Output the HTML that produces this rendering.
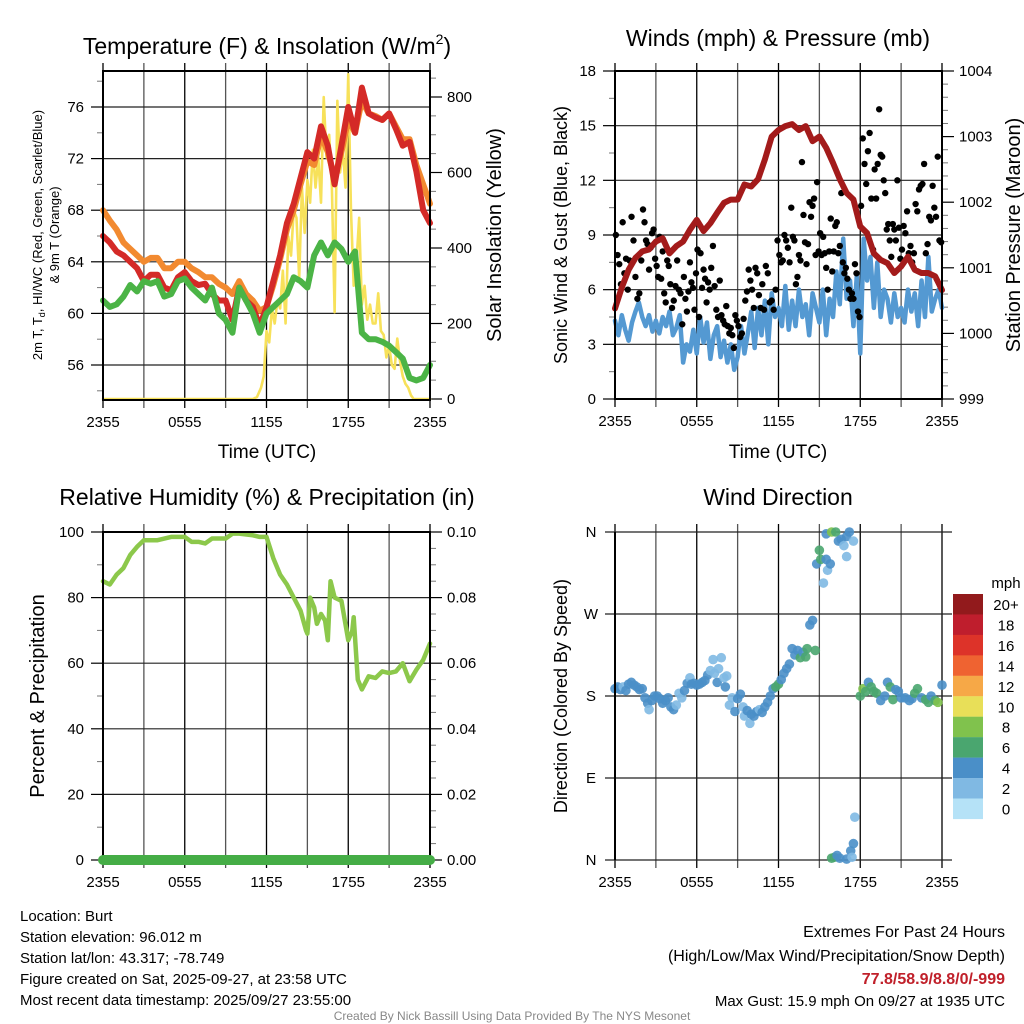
<!DOCTYPE html>
<html><head><meta charset="utf-8"><style>
html,body{margin:0;padding:0;background:#fff;}
svg{display:block;font-family:"Liberation Sans",sans-serif;}
</style></head><body>
<svg id="c" width="1024" height="1024" viewBox="0 0 1024 1024" xmlns="http://www.w3.org/2000/svg">
<g font-size="23" text-anchor="middle" fill="#000">
<text x="267" y="54">Temperature (F) &amp; Insolation (W/m<tspan font-size="14" dy="-10">2</tspan><tspan dy="10">)</tspan></text>
<text x="778" y="46">Winds (mph) &amp; Pressure (mb)</text>
<text x="267" y="505">Relative Humidity (%) &amp; Precipitation (in)</text>
<text x="778" y="505">Wind Direction</text>
</g>
<g font-size="15" fill="#000">
<text x="20" y="921">Location: Burt</text>
<text x="20" y="942">Station elevation: 96.012 m</text>
<text x="20" y="963">Station lat/lon: 43.317; -78.749</text>
<text x="20" y="984">Figure created on Sat, 2025-09-27, at 23:58 UTC</text>
<text x="20" y="1005">Most recent data timestamp: 2025/09/27 23:55:00</text>
</g>
<g font-size="16" fill="#000" text-anchor="end">
<text x="1005" y="937">Extremes For Past 24 Hours</text>
<text x="1005" y="961">(High/Low/Max Wind/Precipitation/Snow Depth)</text>
<text x="1005" y="984" fill="#c0202a" font-weight="bold">77.8/58.9/8.8/0/-999</text>
<text x="1005" y="1006" font-size="15">Max Gust: 15.9 mph On 09/27 at 1935 UTC</text>
</g>
<text x="512" y="1020" font-size="12" fill="#888" text-anchor="middle">Created By Nick Bassill Using Data Provided By The NYS Mesonet</text>
</svg>
<script>
// ---------- DATA ----------
const xTickLabels=["2355","0555","1155","1755","2355"];
const tHours=[0,0.5,1,1.5,2,2.5,3,3.5,4,4.5,5,5.5,6,6.5,7,7.5,8,8.5,9,9.5,10,10.5,11,11.5,12,12.5,13,13.5,14,14.5,15,15.5,16,16.5,17,17.5,18,18.5,19,19.5,20,20.5,21,21.5,22,22.5,23,23.5,24];
const tempRed=[66,65.5,64.8,64.5,64,63.5,62.5,63,63,62,61.8,62.8,63.2,62.5,62.2,62.3,61.5,61,61,59.5,62,61,60.5,59,60.5,62.5,64.5,67,68.5,70.5,72.5,72,74.5,73,70,73,76,74,77.5,75.5,75.2,75,75.5,74.3,73,73.3,71,68,67];
const tempOrange=[68,67.2,66.5,65.5,65,64.5,64,64.3,64.3,63.5,63.5,64,64,63.5,63.2,62.8,62.8,62.3,62,61.5,62.5,61.5,61,60.2,60.5,62.2,64.2,66.5,68,70,71.8,71.5,73.8,72.5,70.5,72.5,75,74,76.5,75.5,75.3,75,75.5,74.5,73.5,73.5,71.5,70,68.5];
const tempGreen=[61,60.5,60.7,61.3,62.2,61.7,62.5,62.3,62.5,61.3,61.5,62.5,62.7,62,61.5,61,62,60,59.5,58.5,62,61,60,58.5,60,60.5,61,61.5,62.8,62.5,62,64.5,65.5,64.5,65.5,65,64,64.8,58.5,58,58,57.8,57.5,57,56.5,55,54.8,55,56];
const solHours=[0,11,11.3,11.6,11.8,12,12.2,12.4,12.6,12.8,13,13.2,13.4,13.6,13.8,14,14.2,14.4,14.6,14.8,15,15.2,15.4,15.6,15.8,16,16.2,16.4,16.6,16.8,17,17.2,17.4,17.6,17.8,18,18.2,18.4,18.6,18.8,19,19.2,19.4,19.6,19.8,20,20.2,20.4,20.6,20.8,21,21.2,21.4,21.6,21.8,22,22.2,22.4,22.6,22.8,24];
const solValues=[0,0,5,30,60,180,150,240,200,260,240,340,200,430,380,500,480,320,560,440,580,520,660,560,640,520,800,640,700,560,230,790,600,660,560,860,500,300,360,480,250,300,210,250,200,200,280,180,170,110,140,90,80,160,100,60,40,30,10,0,0];
const pressHours=tHours;
const pressValues=[1000.38,1000.7,1000.97,1001.15,1001.25,1001.28,1001.4,1001.45,1001.22,1001.33,1001.4,1001.58,1001.73,1001.56,1001.68,1001.84,1001.99,1002.04,1002.04,1002.27,1002.24,1002.35,1002.65,1003.0,1003.1,1003.16,1003.19,1003.1,1003.16,1002.93,1003.0,1002.83,1002.6,1002.35,1002.14,1002.04,1001.63,1001.53,1001.22,1001.12,1001.07,1000.92,1001.02,1001.17,1000.97,1000.92,1000.92,1000.87,1000.66];
const sonicWind=[4.3,3.5,4.6,3.8,3.2,4.2,4.8,5.3,4.5,4.0,4.6,3.7,4.3,3.6,4.5,4.0,4.8,3.5,3.9,4.6,2.0,3.0,2.6,3.8,2.5,4.5,3.1,4.2,2.2,3.5,4.0,2.3,3.2,2.0,3.0,1.6,2.3,4.0,2.5,3.6,4.8,2.8,5.0,3.5,5.4,3.0,5.8,4.5,5.0,4.0,6.2,3.8,5.4,4.0,6.0,4.5,5.2,3.5,5.8,5.0,4.2,6.0,3.5,5.5,4.5,7.0,5.2,8.8,5.5,6.5,4.0,6.8,2.5,8.8,6.5,7.8,5.0,7.5,4.5,6.0,5.5,4.2,5.8,4.5,5.0,4.2,6.0,4.8,5.8,4.0,6.5,4.5,7.8,4.8,5.5,6.0,5.0];
const gustByHour=[[9,7.9,7.4,6.3,9.7,6.9,7.7,6.0],[7.6,10.0,8.7,6.7,5.5,5.8,7.6],[10.4,9.7,8.7,8.5,7.1,8.3,9.1,9.3,7.7],[7.3,6.7,8.9,6.6,8.1,5.8,5.3,7.6,7.3],[6.3,5.0,5.4,6.2,7.6,6.0,5.8,4.1],[6.7,5.5,4.8,5.9,7.5,6.4,6.1,4.9,6.9],[8.2,4.5,8.0,6.1,7.1,6.6,5.3,6.4,6.0],[7.2,8.4,6.2,4.9,4.5,6.5,4.6,4.3],[4.1,5.1,4.0,3.6,3.9,3.5,2.8,4.6,4.3],[4.0,3.4,3.6,4.4,5.4,5.9,7.1,6.5],[6.0,5.0,7.2,6.9,5.7,5.0,6.3,4.9],[7.3,6.9,5.3,5.4,4.9,6.0,8.7],[7.9,7.5,7.6,9.0,8.7,8.3,7.5,10.5],[8.9,8.7,6.3,6.7,7.9,7.6,13.0,10.1,8.6],[7.4,8.5,10.8,10.0,10.6,11.0,7.9,11.9,8.1],[9.1,7.9,8.9,8.0,7.2,6.0,8.1,9.9,7.0],[8.1,9.5,9.7,8.0,8.4,11.3,7.5,6.9,7.2],[6.6,6.0,5.5,5.8,5.5,7.4,6.9,4.8,4.5],[10.6,14.3,12.9,11.8,13.6,14.6,11.0,8.2],[12.6,11.0,12.9,15.9,13.4,13.3,12.0,11.3,9.3],[9.6,8.7,7.8,9.6,9.3,8.7,12.0,9.4,7.7],[8.2,9.5,9.1,10.3,8.0,8.4,7.5,8.0],[10.7,10.3,11.5,11.7,11.8,12.9,8.0,8.5],[10.0,9.8,11.7,10.5,10.0,13.3,8.7,8.6]];
const rhHours=[0,0.5,1,1.5,2,2.5,3,4,5,6,6.5,7,7.5,8,8.5,9,9.5,10,11,11.5,12,12.5,13,13.5,14,14.5,14.9,15,15.2,15.5,15.7,16,16.3,16.5,16.7,17,17.5,18,18.3,18.4,18.7,19,19.5,20,20.5,21,21.5,22,22.5,23,23.5,24];
const rhValues=[85,84,87,89,93,95.5,97.5,97.5,98.5,98.5,97,97,96.5,98,98,98,99.5,99.5,99,98.5,98.5,92,87,84,80,76,70,69,80,77,72,75,73,67,85,80,79,67,70,74,55,52,56,55.5,57.5,57,57.5,60,54.5,58,61,66];
const precipHours=[0,24];
const precipValues=[0,0];
const dirH=[0,0.2,0.4,0.6,0.8,1,1.2,1.4,1.6,1.8,2,2.2,2.4,2.5,2.7,2.9,3.1,3.3,3.5,3.7,3.9,4.1,4.3,4.5,4.7,4.9,5.1,5.3,5.5,5.6,5.8,6,6.2,6.4,6.6,6.8,7,7.2,7.3,7.5,7.6,7.8,8,8.1,8.2,8.4,8.6,8.8,9,9.2,9.4,9.5,9.7,9.9,10,10.2,10.4,10.6,10.8,11,11.2,11.4,11.6,11.8,12,12.2,12.4,12.6,12.8,13,13.2,13.4,13.6,13.8,14,14.1,14.3,14.5,14.7,14.8,15,15.1,15.3,15.5,15.6,15.8,15.5,15.9,16.2,16.4,16.6,16.8,17,17,17.2,17.5,15.9,16.1,16.3,16.5,17,17.3,17.5,17.4,17.6,18,18.2,18.4,18.6,18.8,19,19.2,19.5,19.8,20,20.2,20.4,20.6,20.8,21,21.3,21.6,21.8,22,22.2,22.5,22.8,23,23.2,23.5,23.7,24];
const dirDeg=[188,190,187,190,186,193,195,192,190,187,188,178,172,165,175,180,180,177,172,175,178,168,165,170,183,178,186,194,200,193,194,192,193,195,197,203,208,220,205,195,210,222,200,190,202,170,178,163,177,182,168,158,164,150,160,158,163,165,162,168,173,180,188,190,193,198,205,210,215,232,225,230,222,228,223,232,258,263,230,325,340,330,304,330,318,325,358,360,360,350,352,345,355,333,360,350,2,3,5,2,1,10,18,3,47,180,188,185,195,190,185,183,175,180,195,190,176,187,185,178,178,175,177,183,188,178,176,173,180,175,173,192];
const dirSpd=[4.5,4.5,4.5,3.5,4.5,4.5,4.5,4.5,4.5,4.5,4.5,4.5,4.5,2.5,4.5,4.5,4.5,4.5,4.5,4.5,4.5,4.5,4.5,3.5,3,3,4.5,4.5,3,4.5,4.5,4.5,4.5,4.5,4.5,4.5,3,3,3,4.5,3,3,3,4.5,3,3,3,4.5,4.5,4.5,3,2.5,4.5,2.5,4.5,4.5,4.5,3,4.5,4.5,4.5,4.5,4.5,7,7,4.5,4.5,4.5,4.5,4.5,4.5,4.5,7,4.5,7,7,4.5,4.5,7,4.5,7,7,3,4.5,3,4.5,4.5,8,7,4.5,4.5,3,4.5,3,4.5,3,7,6.5,4.5,4.5,4.5,4.5,4.5,3,3,7,8,7,4.5,7,7,7,4.5,4.5,4.5,7,7,4.5,4.5,4.5,4.5,4.5,4.5,7,7,4.5,7,7,4.5,7,8,4.5];
const legendLabels=["20+","18","16","14","12","10","8","6","4","2","0"];
const legendColors=["#921a1c","#bf1e2d","#dd3329","#ef6331","#f6a847","#e8df58","#80c24d","#4aa66f","#4a8fc8","#80b9e3","#b5e2f7"];

// ---------- helpers ----------
const svg=document.getElementById('c');
const NS='http://www.w3.org/2000/svg';
function mk(tag,attrs,parent){const e=document.createElementNS(NS,tag);for(const k in attrs)e.setAttribute(k,attrs[k]);(parent||svg).appendChild(e);return e;}
function scale(d0,d1,r0,r1){return v=>r0+(v-d0)*(r1-r0)/(d1-d0);}
function spdColor(s){let i=Math.min(10,Math.floor(s/2));return legendColors[10-i];}

function panel(name,x0,x1,y0,y1){
  const g=mk('g',{});
  
  
  const X=scale(0,24,x0,x1);
  for(let h=0;h<=24;h+=3){
    const l=mk('line',{x1:X(h),x2:X(h),y1:y0-8,y2:y1+8,stroke:(h%6===0?'#000':'#555'),'stroke-width':1.3},g);
    
    
  }
  for(let i=0;i<xTickLabels.length;i++){
    const t=mk('text',{x:X(i*6),y:y1+27,'font-size':15,'text-anchor':'middle'},g);
    
    
    t.textContent=xTickLabels[i];
  }
  return {g,X};
}
function yAxis(g,x0,x1,Y,majors,minors,labels,side,grid){
  majors.forEach((v,i)=>{
    const y=Y(v);
    if(grid){const l=mk('line',{x1:x0,x2:x1,y1:y,y2:y,stroke:'#222','stroke-width':1.2},g);
      
      }
    const xa=side==='left'?x0:x1;
    mk('line',{x1:xa,x2:xa+(side==='left'?-12:12),y1:y,y2:y,stroke:'#000','stroke-width':1.2},g);
    const t=mk('text',{x:side==='left'?x0-19:x1+17,y:y+5,'font-size':15,'text-anchor':side==='left'?'end':'start'},g);
    
    
    t.textContent=labels[i];
  });
  minors.forEach(v=>{const y=Y(v);const xa=side==='left'?x0:x1;
    mk('line',{x1:xa,x2:xa+(side==='left'?-6:6),y1:y,y2:y,stroke:'#777','stroke-width':1},g);});
}
function poly(g,xs,ys,X,Y,color,w,name){
  const p=mk('polyline',{points:xs.map((h,i)=>X(h)+','+Y(ys[i])).join(' '),fill:'none',stroke:color,'stroke-width':w,'stroke-linejoin':'round','stroke-linecap':'round'},g);
  
  
  return p;
}
function frame(g,x0,x1,y0,y1){mk('rect',{x:x0,y:y0,width:x1-x0,height:y1-y0,fill:'none',stroke:'#000','stroke-width':2},g);}
function rotText(g,x,y,txt,size,name){
  const t=mk('text',{x:x,y:y,'font-size':size,'text-anchor':'middle',transform:`rotate(-90 ${x} ${y})`},g);
  
  
  t.textContent=txt;return t;
}
function range(a,b,s){const r=[];for(let v=a;v<=b+1e-9;v+=s)r.push(+v.toFixed(4));return r;}

// ---------- Panel 1: temperature ----------
(function(){
  const x0=103,x1=430,y0=71,y1=400;
  const {g,X}=panel('temperature-panel',x0,x1,y0,y1);
  const Y=scale(56,76,365,107);
  const Ys=scale(0,800,399,97);
  yAxis(g,x0,x1,Y,[56,60,64,68,72,76],[54,58,62,66,70,74,78],["56","60","64","68","72","76"],'left',true);
  yAxis(g,x0,x1,Ys,[0,200,400,600,800],[50,100,150,250,300,350,450,500,550,650,700,750,850],["0","200","400","600","800"],'right',false);
  poly(g,solHours,solValues,X,Ys,'#f7e15a',2.6,'insolation-line');
  poly(g,tHours,tempOrange,X,Y,'#f28a30',6,'temp-9m-line');
  poly(g,tHours,tempRed,X,Y,'#d42a27',6,'temp-2m-line');
  poly(g,tHours,tempGreen,X,Y,'#4bb446',6,'dewpoint-line');
  frame(g,x0,x1,y0,y1);
  const t=mk('text',{x:267,y:458,'font-size':19,'text-anchor':'middle'},g);
  t.textContent='Time (UTC)';
  const a=mk('text',{x:42,y:235,'font-size':13,'text-anchor':'middle',transform:'rotate(-90 42 235)'},g);
  
  a.innerHTML='2m T, T<tspan font-size="9" dy="3">d</tspan><tspan dy="-3">, HI/WC (Red, Green, Scarlet/Blue)</tspan>';
  rotText(g,59,235,'& 9m T (Orange)',13,'left-y-axis-title-2');
  rotText(g,501,235,'Solar Insolation (Yellow)',20,'right-y-axis-title');
})();

// ---------- Panel 2: winds ----------
(function(){
  const x0=615,x1=942,y0=71,y1=399;
  const {g,X}=panel('wind-panel',x0,x1,y0,y1);
  const Y=scale(0,18,399,71);
  const Yp=scale(999,1004,399,71);
  yAxis(g,x0,x1,Y,[0,3,6,9,12,15,18],[1.5,4.5,7.5,10.5,13.5,16.5],["0","3","6","9","12","15","18"],'left',true);
  yAxis(g,x0,x1,Yp,[999,1000,1001,1002,1003,1004],range(999.2,1003.8,0.2).filter(v=>Math.abs(v-Math.round(v))>0.01),["999","1000","1001","1002","1003","1004"],'right',false);
  const sh=sonicWind.map((v,i)=>i*0.25);
  poly(g,sh,sonicWind,X,Y,'#5499d2',4.5,'sonic-wind-line');
  gustByHour.forEach((arr,h)=>arr.forEach((v,i)=>{
    const c=mk('circle',{cx:X(h+(i+0.5)/arr.length),cy:Y(v),r:3.2,fill:'#000'},g);
    
    
  }));
  poly(g,pressHours,pressValues,X,Yp,'#a31b1b',6,'pressure-line');
  frame(g,x0,x1,y0,y1);
  const t=mk('text',{x:778,y:458,'font-size':19,'text-anchor':'middle'},g);
  t.textContent='Time (UTC)';
  rotText(g,567,235,'Sonic Wind & Gust (Blue, Black)',18,'left-y-axis-title');
  rotText(g,1020,235,'Station Pressure (Maroon)',20,'right-y-axis-title');
})();

// ---------- Panel 3: RH ----------
(function(){
  const x0=103,x1=430,y0=532,y1=860;
  const {g,X}=panel('humidity-panel',x0,x1,y0,y1);
  const Y=scale(0,100,860,532);
  const Yp=scale(0,0.1,860,532);
  yAxis(g,x0,x1,Y,[0,20,40,60,80,100],[10,30,50,70,90],["0","20","40","60","80","100"],'left',true);
  yAxis(g,x0,x1,Yp,[0,0.02,0.04,0.06,0.08,0.1],[0.005,0.01,0.015,0.025,0.03,0.035,0.045,0.05,0.055,0.065,0.07,0.075,0.085,0.09,0.095],["0.00","0.02","0.04","0.06","0.08","0.10"],'right',false);
  poly(g,rhHours,rhValues,X,Y,'#8cc84b',4.5,'rh-line');
  frame(g,x0,x1,y0,y1);
  poly(g,precipHours,precipValues,X,Yp,'#45ad46',10,'precip-line');
  rotText(g,44,696,'Percent & Precipitation',20,'left-y-axis-title');
})();

// ---------- Panel 4: direction ----------
(function(){
  const x0=615,x1=942,y0=532,y1=860;
  const {g,X}=panel('direction-panel',x0,x1,y0,y1);
  const Y=scale(0,360,860,532);
  const dl=["N","E","S","W","N"];
  [0,90,180,270,360].forEach((v,i)=>{
    const y=Y(v);
    mk('line',{x1:x0-10,x2:x1+10,y1:y,y2:y,stroke:'#222','stroke-width':1.2},g);
    const t=mk('text',{x:591,y:y+5,'font-size':15,'text-anchor':'middle'},g);
    t.textContent=dl[i];
  });
  dirH.forEach((h,i)=>{
    const c=mk('circle',{cx:X(h),cy:Y(dirDeg[i]),r:4.8,fill:spdColor(dirSpd[i]),'fill-opacity':0.9},g);
    
    
  });
  mk('line',{x1:x0,x2:x0,y1:y0,y2:y1,stroke:'#000','stroke-width':2},g);
  rotText(g,567,696,'Direction (Colored By Speed)',18,'left-y-axis-title');
  const lg=mk('g',{});
  
  
  const u=mk('text',{x:1006,y:588,'font-size':15,'text-anchor':'middle'},lg);u.textContent='mph';
  legendColors.forEach((c,i)=>{
    const y=594+i*20.45;
    const r=mk('rect',{x:953,y:y,width:30,height:20.6,fill:c},lg);
    
    
    const t=mk('text',{x:1006,y:y+16,'font-size':15,'text-anchor':'middle'},lg);
    
    
    t.textContent=legendLabels[i];
  });
})();
</script>
</body></html>
